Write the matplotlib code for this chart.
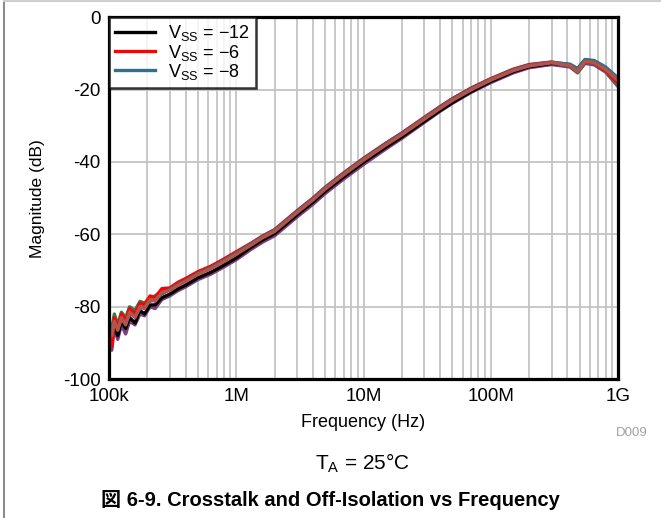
import matplotlib
matplotlib.use("Agg")
import matplotlib.pyplot as plt
from matplotlib.lines import Line2D
from matplotlib.ticker import LogLocator, FixedLocator, NullFormatter

plt.rcParams['font.family'] = ['Liberation Sans', 'Noto Sans CJK JP', 'DejaVu Sans']
plt.rcParams['mathtext.fontset'] = 'custom'
plt.rcParams['mathtext.rm'] = 'Liberation Sans'

# frequency points (Hz)
freq = [1.0e5, 1.05e5, 1.1e5, 1.17e5, 1.25e5, 1.35e5, 1.45e5, 1.6e5, 1.75e5, 1.9e5,
        2.1e5, 2.3e5, 2.6e5, 3.0e5, 3.5e5, 4.0e5, 5.0e5, 6.3e5, 8.0e5, 1e6,
        1.3e6, 1.6e6, 2e6, 3e6, 4e6, 5e6, 7e6, 1e7, 1.5e7, 2e7,
        3e7, 4e7, 5e7, 7e7, 1e8, 1.5e8, 2e8, 3e8, 4.2e8, 4.8e8,
        5.5e8, 6.5e8, 8e8, 1e9]

# magnitude (dB) per trace
mag_black = [-87, -89, -85, -88, -84, -86, -83, -84.5, -81, -82,
             -79.5, -79.5, -77.5, -76.5, -75, -74, -72, -70.5, -68.5, -66.5,
             -63.6, -61.6, -59.8, -54.6, -51.1, -48.1, -44.1, -40.1, -35.9, -33.1,
             -28.8, -25.8, -23.6, -20.6, -17.8, -15.1, -13.7, -12.8, -13.2, -14.4,
             -11.8, -12.2, -14.0, -17.0]
mag_red = [-85, -91, -83, -86, -82, -84, -80.5, -82, -79, -79.5,
           -77, -77.5, -75, -74.8, -73.2, -72.2, -70.3, -68.8, -66.8, -64.8,
           -62.5, -60.5, -58.7, -53.5, -50.0, -47.0, -43.0, -39.0, -34.8, -32.0,
           -27.7, -24.7, -22.5, -19.6, -17.0, -14.4, -13.1, -12.4, -13.2, -14.8,
           -12.3, -12.7, -14.8, -18.2]
mag_teal = [-86, -87, -84.5, -86, -83.5, -84.5, -82, -82.5, -80.5, -80,
            -78.5, -78, -76.5, -75.2, -73.8, -72.8, -70.8, -69.2, -67.2, -65.2,
            -62.7, -60.7, -58.9, -53.7, -50.2, -47.2, -43.2, -39.2, -35.0, -32.2,
            -27.9, -24.9, -22.7, -19.8, -17.2, -14.6, -13.3, -12.5, -13.0, -14.2,
            -11.7, -12.0, -13.8, -16.8]
mag_green = [-84, -86, -82, -85, -81.5, -83, -80, -81, -78.5, -79,
             -77.5, -77, -75.5, -74.9, -73.5, -72.5, -70.5, -69, -67, -65,
             -62.6, -60.6, -58.8, -53.6, -50.1, -47.1, -43.1, -39.1, -34.9, -32.1,
             -27.8, -24.8, -22.6, -19.7, -17.1, -14.5, -13.2, -12.5, -13.4, -15.2,
             -12.5, -12.8, -15.0, -18.8]
mag_brown = [-86, -88, -84, -86.5, -83, -85, -81.5, -83, -80, -80.5,
             -78, -78.5, -76, -75.5, -74, -73, -71, -69.5, -67.5, -65.5,
             -63.0, -61.0, -59.2, -54.0, -50.5, -47.5, -43.5, -39.5, -35.3, -32.5,
             -28.2, -25.2, -23.0, -20.1, -17.4, -14.8, -13.5, -12.6, -13.4, -15.0,
             -12.2, -12.6, -14.5, -17.5]
mag_purple = [-88, -92, -86, -89, -85, -87.5, -84, -85, -82, -82.5,
              -80, -80.5, -78, -77, -75.5, -74.5, -72.5, -71, -69, -67,
              -64.2, -62.2, -60.4, -55.2, -51.7, -48.7, -44.7, -40.7, -36.4, -33.5,
              -29.1, -26.0, -23.8, -20.8, -18.1, -15.4, -14.0, -13.1, -13.8, -15.4,
              -12.8, -13.2, -15.2, -19.2]

x_ticks = [1e5, 1e6, 1e7, 1e8, 1e9]
x_labels = ['100k', '1M', '10M', '100M', '1G']
y_ticks = [0, -20, -40, -60, -80, -100]

fig = plt.figure(figsize=(6.61, 5.18), dpi=100)
ax = fig.add_axes([0.165, 0.268, 0.770, 0.699])

lw = 2.4
ax.plot(freq, mag_purple, color='#7b3f7f', lw=lw)
ax.plot(freq, mag_black, color='black', lw=lw, label='V$_{\\mathrm{SS}}$ = \u221212')
ax.plot(freq, mag_green, color='#2e7d50', lw=lw)
ax.plot(freq, mag_red, color='#ff0000', lw=lw, label='V$_{\\mathrm{SS}}$ = \u22126')
ax.plot(freq, mag_teal, color='#336f86', lw=lw, label='V$_{\\mathrm{SS}}$ = \u22128')
ax.plot(freq, mag_brown, color='#b5524a', lw=lw)

ax.set_xscale('log')
ax.set_xlim(1e5, 1e9)
ax.set_ylim(-100, 0)
ax.xaxis.set_major_locator(FixedLocator(x_ticks))
ax.set_xticklabels(x_labels)
ax.xaxis.set_minor_locator(LogLocator(base=10, subs=range(2, 10), numticks=20))
ax.xaxis.set_minor_formatter(NullFormatter())
ax.set_yticks(y_ticks)
ax.set_yticklabels([str(v) for v in y_ticks])
ax.grid(True, which='both', axis='x', color='#c4c4c4', lw=1.3)
ax.grid(True, which='major', axis='y', color='#c4c4c4', lw=1.3)
ax.tick_params(which='both', length=0, labelsize=13.5, pad=6)
for s in ax.spines.values():
    s.set_linewidth(2.3)

ax.set_xlabel('Frequency (Hz)', fontsize=13, labelpad=7)
ax.set_ylabel('Magnitude (dB)', fontsize=12.5, labelpad=13)

handles, labels = ax.get_legend_handles_labels()
leg = ax.legend(handles, labels, loc='upper left', fontsize=13, frameon=True, fancybox=False,
                borderaxespad=0, handlelength=2.2, labelspacing=-0.05, borderpad=0.35,
                handletextpad=0.7)
leg.get_frame().set_edgecolor('black')
leg.get_frame().set_linewidth(1.8)

fig.text(0.955, 0.164, 'D009', fontsize=9.5, color='#a0a0a0', ha='center', va='center')
fig.text(0.549, 0.106, 'T$_{\\mathrm{A}}$ = 25°C', fontsize=15, ha='center', va='center')
fig.text(0.5, 0.034, '図 6-9. Crosstalk and Off-Isolation vs Frequency', fontsize=14.5,
         fontweight='bold', ha='center', va='center')

fig.add_artist(Line2D([0.006, 0.006], [0, 1], transform=fig.transFigure, color='#8c8c8c', lw=1.5))
fig.add_artist(Line2D([0.006, 1], [0.998, 0.998], transform=fig.transFigure, color='#cfcfcf', lw=1.5))

fig.savefig('out.png', dpi=100)
